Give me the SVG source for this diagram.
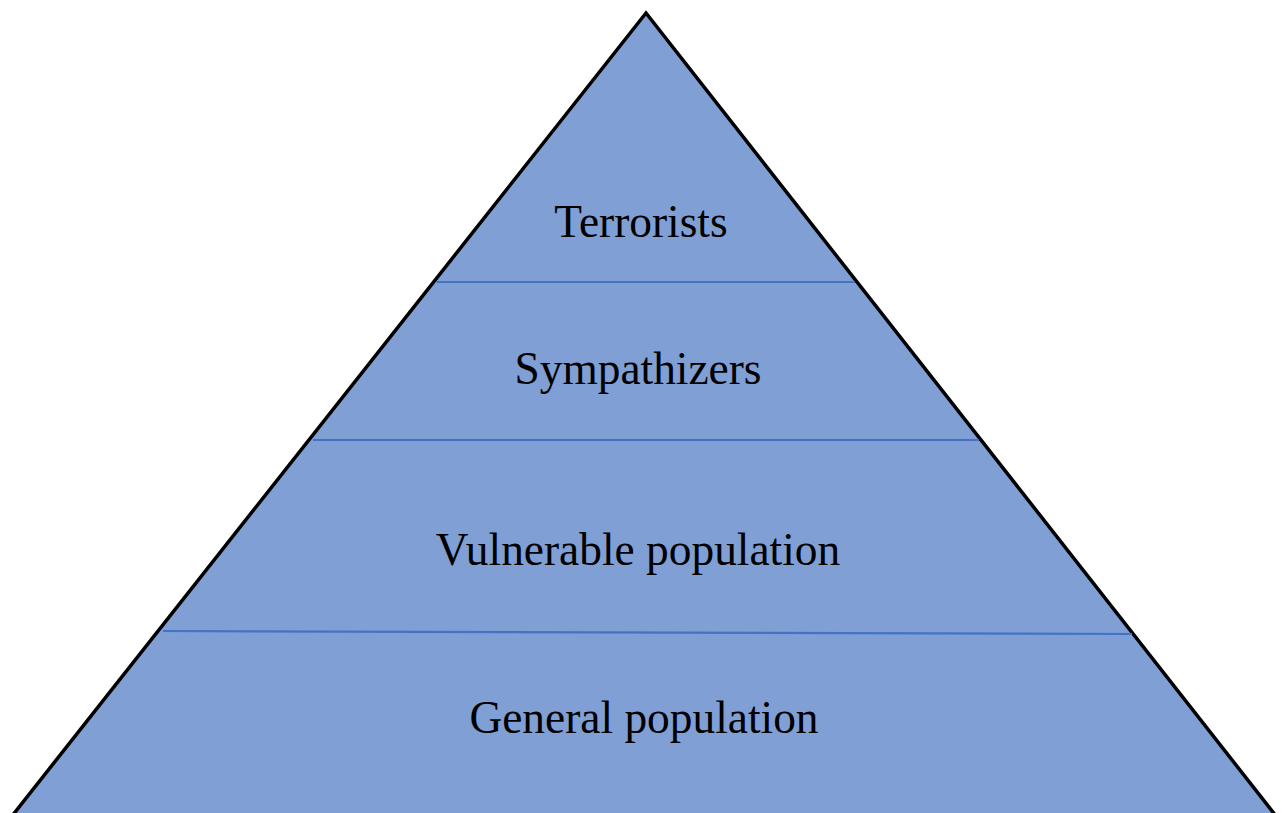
<svg xmlns="http://www.w3.org/2000/svg" width="1288" height="813" viewBox="0 0 1288 813">
<style>
.lbl{font-family:"Liberation Serif","Times New Roman",serif;font-size:45.4px;fill:#000;text-anchor:middle}
.div{stroke:#4472C4;stroke-width:2.2;fill:none}
</style>
<rect width="1288" height="813" fill="#fff"/>
<g id="pyramid">
<polygon points="646,13 12,816 1276,816" fill="#7F9FD5" stroke="#000" stroke-width="3.5" stroke-linejoin="miter"/>
</g>
<g id="dividers">
<line class="div" x1="437" y1="282" x2="855" y2="282"/>
<line class="div" x1="313" y1="440" x2="979" y2="440"/>
<line class="div" x1="163" y1="631" x2="1132" y2="634"/>
</g>
<g id="terrorists"><text class="lbl" x="641" y="237">Terrorists</text></g>
<g id="sympathizers"><text class="lbl" x="638" y="384">Sympathizers</text></g>
<g id="vulnerable"><text class="lbl" x="638" y="565">Vulnerable population</text></g>
<g id="general"><text class="lbl" x="644" y="733">General population</text></g>
</svg>
